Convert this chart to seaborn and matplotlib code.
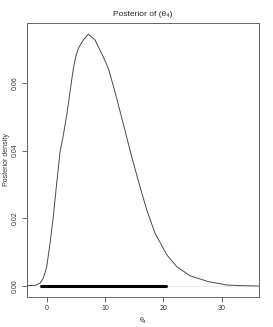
import matplotlib
matplotlib.use("Agg")
import matplotlib.pyplot as plt
import seaborn as sns
import numpy as np

# posterior density of theta_4
theta = [-3.38, -2.0, -1.15, -0.58, 0.0, 0.57, 1.13, 1.71, 2.28, 2.85, 3.43, 4.0,
         4.57, 4.97, 5.42, 6.28, 7.14, 8.28, 9.7, 10.57, 11.7, 13.1, 14.57, 16.0,
         17.15, 18.57, 20.6, 22.3, 24.6, 27.7, 30.9, 33.5, 36.41]
density = [0.0001, 0.0002, 0.0008, 0.0023, 0.0057, 0.0126, 0.0205, 0.0303, 0.0395,
           0.0446, 0.0505, 0.0574, 0.0643, 0.0677, 0.0702, 0.0727, 0.0744, 0.0727,
           0.0677, 0.0643, 0.0574, 0.0481, 0.0382, 0.0293, 0.0225, 0.0156, 0.0092,
           0.0057, 0.0030, 0.0013, 0.0003, 0.0001, 0.0]
interval = [-1.0, 20.4]
xticks = [0, 10, 20, 30]
yticks = [0.00, 0.02, 0.04, 0.06]

def main():
    sns.set_style("white")
    plt.rcParams['font.family'] = ['Liberation Sans', 'DejaVu Sans']

    fig = plt.figure(figsize=(2.73, 3.27), dpi=100)
    ax = fig.add_axes([0.0989, 0.0917, 0.85, 0.838])

    ax.axhline(0, color='#e8e8e8', linewidth=0.6, zorder=1)
    sns.lineplot(x=theta, y=density, ax=ax, color='#4a4a4a', linewidth=0.7, zorder=3)
    sns.lineplot(x=interval, y=[0, 0], ax=ax, color='black', linewidth=2.2, zorder=4)

    ax.set_xlim(-3.38, 36.41)
    ax.set_ylim(-0.00325, 0.0777)
    ax.set_xticks(xticks)
    ax.set_xticklabels([str(t) for t in xticks])
    ax.set_yticks(yticks)
    ax.set_yticklabels(['%.2f' % t for t in yticks], rotation=90, va='center')
    ax.tick_params(axis='both', direction='out', length=3.5, width=0.6,
                   color='#555555', labelsize=5, labelcolor='#333333', pad=2.5,
                   bottom=True, left=True)
    for s in ax.spines.values():
        s.set_color('#666666')
        s.set_linewidth(0.7)

    ax.set_title('Posterior of (θ₄)', fontsize=6, color='#222222', pad=5)
    ax.set_xlabel('θ₄', fontsize=5, color='#333333', labelpad=3)
    ax.set_ylabel('Posterior density', fontsize=5, color='#333333', labelpad=1)

    fig.savefig('out.png', dpi=100)

if __name__ == '__main__':
    main()
